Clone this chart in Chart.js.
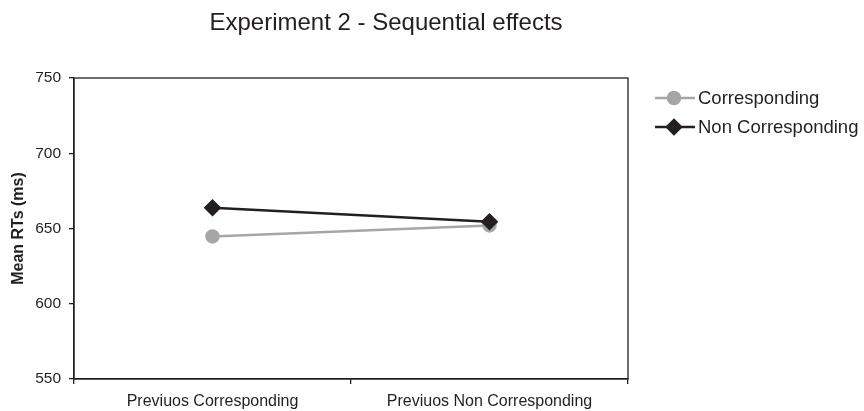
<!DOCTYPE html>
<html>
<head>
<meta charset="utf-8">
<script src="https://cdn.jsdelivr.net/npm/chart.js@4.4.1/dist/chart.umd.min.js"></script>
<style>
  html, body { margin: 0; padding: 0; background: #fff; }
  #wrap { width: 864px; height: 411px; }
</style>
</head>
<body>
<div id="wrap"><canvas id="chart"></canvas></div>
<script>
const categories = ['Previuos Corresponding', 'Previuos Non Corresponding'];
const corresponding = [644.7, 652.0];
const nonCorresponding = [663.8, 654.5];
const yTicks = [550, 600, 650, 700, 750];

const font = '"Liberation Sans", Arial, sans-serif';
const ink = '#231f20';

// full box round the plot area, as in the original
const frame = {
    id: 'frame',
    afterDatasetsDraw(chart) {
        const a = chart.chartArea, ctx = chart.ctx;
        ctx.save();
        ctx.strokeStyle = ink;
        ctx.lineWidth = 1.3;
        ctx.strokeRect(a.left, a.top, a.right - a.left, a.bottom - a.top);
        ctx.restore();
    }
};

// centre the title over the plot + legend area
const titleShift = {
    id: 'titleShift',
    afterLayout(chart) {
        const t = chart.titleBlock;
        t.left = 0;
        t.right = 772;
        t.width = 772;
    }
};

// legend with line + marker, to the right of the plot
const sideLegend = {
    id: 'sideLegend',
    afterDraw(chart) {
        const ctx = chart.ctx;
        const rows = [98, 127];
        chart.data.datasets.forEach((ds, i) => {
            const y = rows[i];
            ctx.save();
            ctx.strokeStyle = ds.borderColor;
            ctx.lineWidth = 2.5;
            ctx.beginPath();
            ctx.moveTo(655, y);
            ctx.lineTo(695, y);
            ctx.stroke();
            Chart.helpers.drawPoint(ctx, {
                pointStyle: ds.pointStyle,
                radius: ds.pointRadius,
                borderWidth: 1
            }, 674, y);
            ctx.fillStyle = ds.pointBackgroundColor;
            ctx.strokeStyle = ds.pointBorderColor;
            ctx.fill();
            ctx.fillStyle = ink;
            ctx.font = '18.5px ' + font;
            ctx.textBaseline = 'middle';
            ctx.textAlign = 'left';
            ctx.fillText(ds.label, 698, y + 1);
            ctx.restore();
        });
    }
};

new Chart(document.getElementById('chart').getContext('2d'), {
    type: 'line',
    data: {
        labels: categories,
        datasets: [{
            label: 'Corresponding',
            data: corresponding,
            borderColor: '#a6a6a6',
            backgroundColor: '#a6a6a6',
            pointBackgroundColor: '#a6a6a6',
            pointBorderColor: '#a6a6a6',
            pointStyle: 'circle',
            pointRadius: 6,
            borderWidth: 2.5,
            order: 2
        }, {
            label: 'Non Corresponding',
            data: nonCorresponding,
            borderColor: ink,
            backgroundColor: ink,
            pointBackgroundColor: ink,
            pointBorderColor: ink,
            pointStyle: 'rectRot',
            pointRadius: 7,
            borderWidth: 2.5,
            order: 1
        }]
    },
    options: {
        responsive: true,
        maintainAspectRatio: false,
        animation: false,
        layout: { padding: { left: 0, right: 236, top: 0, bottom: 0 } },
        plugins: {
            legend: { display: false },
            tooltip: { enabled: false },
            title: {
                display: true,
                text: 'Experiment 2 - Sequential effects',
                color: ink,
                font: { family: font, size: 24, weight: 'normal' },
                padding: { top: 8.5, bottom: 40.7 }
            }
        },
        scales: {
            x: {
                offset: true,
                grid: { display: true, offset: true, drawOnChartArea: false, tickLength: 5, color: ink, lineWidth: 1.3 },
                border: { display: true, color: ink, width: 1.3 },
                ticks: { color: ink, font: { family: font, size: 16 }, padding: 8, maxRotation: 0 },
                afterFit(scale) { scale.height = 32; }
            },
            y: {
                min: yTicks[0],
                max: yTicks[yTicks.length - 1],
                afterBuildTicks(scale) { scale.ticks = yTicks.map(v => ({ value: v })); },
                grid: { display: true, drawOnChartArea: false, tickLength: 5, color: ink, lineWidth: 1.3 },
                border: { display: true, color: ink, width: 1.3 },
                ticks: { color: ink, font: { family: font, size: 15.5 }, padding: 8 },
                title: {
                    display: true,
                    text: 'Mean RTs (ms)',
                    color: ink,
                    font: { family: font, size: 16, weight: 'bold' },
                    padding: { top: 9, bottom: 0 }
                },
                afterFit(scale) { scale.width = 74; }
            }
        }
    },
    plugins: [frame, titleShift, sideLegend]
});
</script>
</body>
</html>
